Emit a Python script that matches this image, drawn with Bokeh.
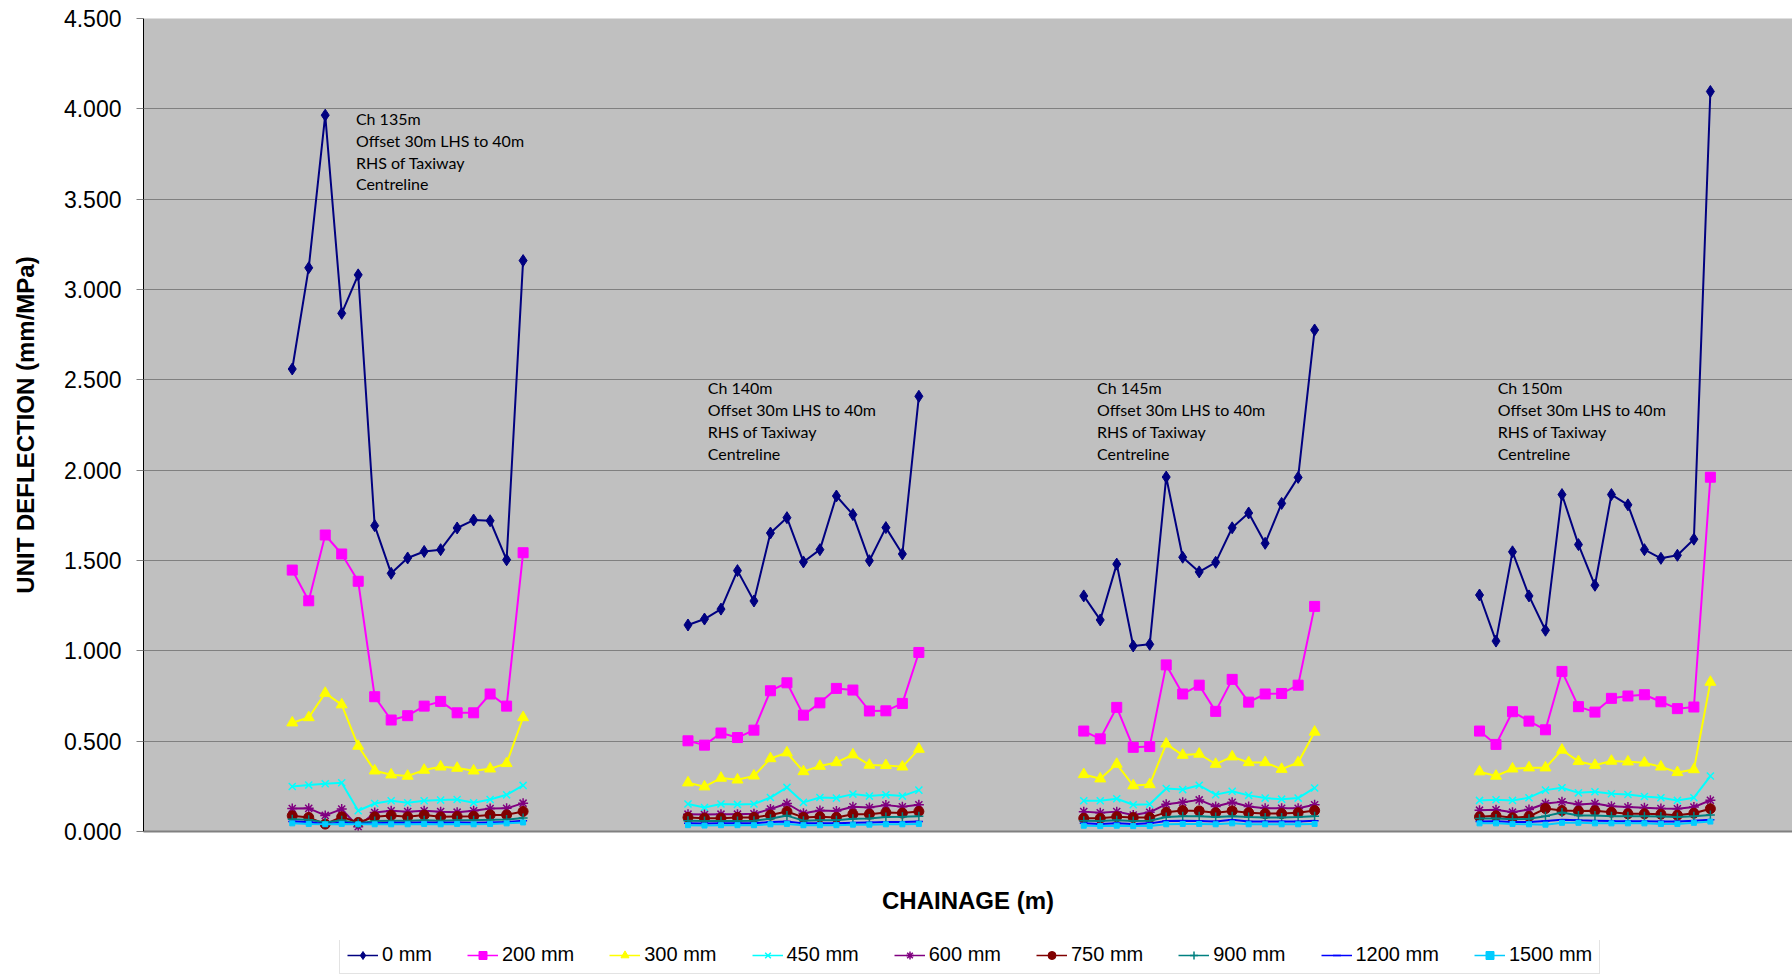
import math
from bokeh.plotting import figure
from bokeh.layouts import column
from bokeh.models import (Range1d, Legend, LegendItem, SingleIntervalTicker,
                          FixedTicker, NumeralTickFormatter)
from bokeh.core.properties import value
from bokeh.embed import file_html
from bokeh.resources import INLINE

# ---------------- data ----------------
series_names = ["0 mm", "200 mm", "300 mm", "450 mm", "600 mm",
                "750 mm", "900 mm", "1200 mm", "1500 mm"]

# 4 chainages, 15 offsets each; groups separated by 9 empty categories
stations_per_group = 15
group_offset = [0, 24, 48, 72]

d0 = ([2.560, 3.120, 3.965, 2.868, 3.081, 1.693, 1.429, 1.514, 1.550, 1.560, 1.680, 1.724, 1.720, 1.504, 3.160]
      + [1.143, 1.176, 1.231, 1.444, 1.276, 1.652, 1.737, 1.492, 1.560, 1.857, 1.754, 1.499, 1.682, 1.536, 2.409]
      + [1.304, 1.171, 1.480, 1.027, 1.036, 1.962, 1.518, 1.437, 1.490, 1.681, 1.763, 1.595, 1.816, 1.960, 2.776]
      + [1.309, 1.054, 1.548, 1.304, 1.114, 1.865, 1.588, 1.363, 1.865, 1.808, 1.560, 1.512, 1.529, 1.618, 4.096])
d200 = ([1.447, 1.277, 1.641, 1.536, 1.385, 0.746, 0.617, 0.641, 0.694, 0.720, 0.657, 0.657, 0.761, 0.694, 1.543]
        + [0.502, 0.478, 0.545, 0.520, 0.561, 0.779, 0.823, 0.644, 0.712, 0.792, 0.783, 0.667, 0.668, 0.709, 0.991]
        + [0.556, 0.513, 0.687, 0.466, 0.470, 0.922, 0.761, 0.810, 0.665, 0.842, 0.716, 0.761, 0.764, 0.810, 1.246]
        + [0.556, 0.482, 0.663, 0.611, 0.563, 0.886, 0.691, 0.661, 0.737, 0.750, 0.757, 0.718, 0.680, 0.689, 1.961])
d300 = ([0.602, 0.631, 0.766, 0.702, 0.473, 0.336, 0.314, 0.307, 0.340, 0.358, 0.351, 0.336, 0.347, 0.377, 0.631]
        + [0.270, 0.248, 0.296, 0.286, 0.308, 0.404, 0.436, 0.332, 0.362, 0.382, 0.425, 0.368, 0.366, 0.358, 0.456]
        + [0.316, 0.292, 0.373, 0.254, 0.260, 0.485, 0.423, 0.429, 0.373, 0.414, 0.382, 0.382, 0.345, 0.382, 0.551]
        + [0.331, 0.307, 0.347, 0.353, 0.353, 0.451, 0.388, 0.367, 0.390, 0.386, 0.380, 0.358, 0.327, 0.343, 0.827])
d450 = ([0.249, 0.257, 0.264, 0.270, 0.115, 0.155, 0.170, 0.159, 0.170, 0.174, 0.177, 0.159, 0.177, 0.203, 0.255]
        + [0.152, 0.133, 0.152, 0.150, 0.152, 0.188, 0.244, 0.161, 0.188, 0.185, 0.207, 0.196, 0.203, 0.196, 0.229]
        + [0.170, 0.170, 0.181, 0.148, 0.151, 0.238, 0.232, 0.256, 0.204, 0.223, 0.200, 0.185, 0.179, 0.185, 0.241]
        + [0.172, 0.176, 0.172, 0.187, 0.229, 0.242, 0.214, 0.220, 0.209, 0.205, 0.194, 0.187, 0.172, 0.187, 0.307])
d600 = ([0.127, 0.128, 0.089, 0.124, 0.026, 0.105, 0.115, 0.110, 0.115, 0.110, 0.107, 0.115, 0.127, 0.128, 0.157]
        + [0.096, 0.094, 0.096, 0.096, 0.098, 0.124, 0.155, 0.101, 0.116, 0.113, 0.137, 0.133, 0.146, 0.137, 0.148]
        + [0.110, 0.104, 0.110, 0.091, 0.106, 0.151, 0.162, 0.175, 0.138, 0.162, 0.138, 0.129, 0.129, 0.129, 0.148]
        + [0.118, 0.120, 0.107, 0.122, 0.155, 0.164, 0.150, 0.155, 0.140, 0.135, 0.131, 0.127, 0.126, 0.135, 0.173])
d750 = ([0.087, 0.078, 0.041, 0.081, 0.050, 0.081, 0.089, 0.081, 0.091, 0.081, 0.083, 0.085, 0.092, 0.092, 0.111]
        + [0.078, 0.074, 0.074, 0.078, 0.078, 0.091, 0.111, 0.078, 0.081, 0.078, 0.096, 0.096, 0.105, 0.102, 0.111]
        + [0.073, 0.073, 0.082, 0.077, 0.077, 0.106, 0.116, 0.114, 0.104, 0.114, 0.104, 0.099, 0.099, 0.104, 0.116]
        + [0.081, 0.087, 0.076, 0.083, 0.127, 0.116, 0.113, 0.115, 0.107, 0.098, 0.098, 0.096, 0.090, 0.101, 0.126])
d900 = ([0.068, 0.065, 0.050, 0.062, 0.045, 0.058, 0.060, 0.060, 0.062, 0.060, 0.062, 0.062, 0.065, 0.066, 0.075]
        + [0.060, 0.058, 0.058, 0.058, 0.060, 0.070, 0.088, 0.060, 0.062, 0.062, 0.070, 0.072, 0.080, 0.082, 0.085]
        + [0.060, 0.058, 0.062, 0.058, 0.060, 0.080, 0.085, 0.085, 0.080, 0.085, 0.080, 0.078, 0.078, 0.080, 0.085]
        + [0.072, 0.072, 0.068, 0.070, 0.085, 0.105, 0.088, 0.088, 0.085, 0.085, 0.085, 0.083, 0.080, 0.085, 0.092])
d1200 = ([0.055, 0.052, 0.040, 0.050, 0.042, 0.045, 0.048, 0.048, 0.050, 0.048, 0.050, 0.048, 0.050, 0.052, 0.060]
         + [0.045, 0.044, 0.045, 0.045, 0.046, 0.052, 0.055, 0.045, 0.046, 0.046, 0.048, 0.050, 0.052, 0.052, 0.055]
         + [0.045, 0.042, 0.045, 0.042, 0.045, 0.058, 0.060, 0.058, 0.055, 0.065, 0.055, 0.055, 0.055, 0.055, 0.060]
         + [0.055, 0.057, 0.052, 0.052, 0.058, 0.065, 0.062, 0.060, 0.058, 0.057, 0.057, 0.055, 0.055, 0.060, 0.065])
d1500 = ([0.045, 0.042, 0.040, 0.042, 0.040, 0.040, 0.040, 0.040, 0.042, 0.040, 0.042, 0.040, 0.042, 0.045, 0.050]
         + [0.035, 0.033, 0.035, 0.035, 0.035, 0.040, 0.042, 0.035, 0.035, 0.035, 0.038, 0.038, 0.040, 0.040, 0.042]
         + [0.032, 0.030, 0.032, 0.030, 0.030, 0.040, 0.042, 0.042, 0.040, 0.045, 0.040, 0.040, 0.040, 0.040, 0.042]
         + [0.045, 0.045, 0.042, 0.040, 0.038, 0.048, 0.048, 0.045, 0.045, 0.045, 0.045, 0.042, 0.042, 0.048, 0.055])

series_values = [d0, d200, d300, d450, d600, d750, d900, d1200, d1500]

y_ticks_interval = 0.5

note_texts = ["Ch 135m\nOffset 30m LHS to 40m\nRHS of Taxiway\nCentreline",
              "Ch 140m\nOffset 30m LHS to 40m\nRHS of Taxiway\nCentreline",
              "Ch 145m\nOffset 30m LHS to 40m\nRHS of Taxiway\nCentreline",
              "Ch 150m\nOffset 30m LHS to 40m\nRHS of Taxiway\nCentreline"]
note_x = [3.86, 25.2, 48.8, 73.1]
note_y = [4.0, 2.51, 2.51, 2.51]

# ---------------- styles ----------------
colors = ["#000080", "#FF00FF", "#FFFF00", "#00FFFF", "#800080",
          "#800000", "#008080", "#0000FF", "#00CCFF"]
markers = ["diamond", "square", "triangle", "x", "asterisk",
           "circle", "cross", "dash", "square"]
msizes = [12, 10, 11, 10, 10, 10, 9, 8, 5]
leg_sizes = [9, 7, 8, 8, 8, 8, 8, 7, 4]

FONT = "Liberation Sans"
W = 1792
H_MAIN = 940
H_LEG = 34

# x positions of the measurement points, with a break (NaN) between groups
x_pts = []
for g in group_offset:
    x_pts += [g + i for i in range(stations_per_group)]


def with_breaks(vals):
    out = []
    for k in range(len(group_offset)):
        out += vals[k * stations_per_group:(k + 1) * stations_per_group]
        if k < len(group_offset) - 1:
            out.append(math.nan)
    return out


x_line = with_breaks(x_pts)

p = figure(width=W, height=H_MAIN, output_backend="svg", toolbar_location=None,
           x_range=Range1d(-9.02, 90.98), y_range=Range1d(0, 4.5),
           min_border_left=143, min_border_top=18, min_border_right=0,
           min_border_bottom=109)
p.background_fill_color = "#C0C0C0"
p.border_fill_color = "white"
p.outline_line_color = None

p.xgrid.grid_line_color = None
p.ygrid.grid_line_color = "#808080"
p.ygrid.grid_line_width = 1
p.ygrid.ticker = SingleIntervalTicker(interval=y_ticks_interval)

p.yaxis.ticker = SingleIntervalTicker(interval=y_ticks_interval)
p.yaxis.formatter = NumeralTickFormatter(format="0.000")
p.yaxis.axis_line_color = "black"
p.yaxis.major_tick_out = 7
p.yaxis.major_tick_in = 0
p.yaxis.major_tick_line_color = "#808080"
p.yaxis.minor_tick_line_color = None
p.yaxis.major_label_text_font = FONT
p.yaxis.major_label_text_font_size = "23px"
p.yaxis.major_label_text_color = "black"
p.yaxis.major_label_standoff = 15
p.yaxis.axis_label = "UNIT DEFLECTION (mm/MPa)"
p.yaxis.axis_label_text_font = FONT
p.yaxis.axis_label_text_font_style = "bold"
p.yaxis.axis_label_text_font_size = "24px"
p.yaxis.axis_label_text_color = "black"
p.yaxis.axis_label_standoff = 22

p.xaxis.ticker = FixedTicker(ticks=[])
p.xaxis.major_tick_out = 0
p.xaxis.major_tick_in = 0
p.xaxis.minor_tick_line_color = None
p.xaxis.major_label_standoff = 0
p.xaxis.major_label_text_font_size = "0px"
p.xaxis.axis_line_color = "#808080"
p.xaxis.axis_line_width = 2
p.xaxis.axis_label = "CHAINAGE (m)"
p.xaxis.axis_label_text_font = FONT
p.xaxis.axis_label_text_font_style = "bold"
p.xaxis.axis_label_text_font_size = "24px"
p.xaxis.axis_label_text_color = "black"
p.xaxis.axis_label_standoff = 55

for name, vals, c, m, s in zip(series_names, series_values, colors, markers, msizes):
    p.line(x_line, with_breaks(vals), line_color=c, line_width=2)
    lw = 1.5 if m in ("x", "asterisk", "cross", "dash") else 1
    p.scatter(x_pts, vals, marker=m, size=s, line_color=c, line_width=lw, fill_color=c)

p.text(x=note_x, y=note_y, text=note_texts, text_font=value("Lato"),
       text_font_size="16px", text_color="black", text_baseline="top",
       text_align="left", text_line_height=1.15)

# ---------------- legend strip ----------------
# The strip holds copies of the series (outside its visible range) so the
# legend can draw each series' line + marker sample.
lf = figure(width=W, height=H_LEG, output_backend="svg", toolbar_location=None,
            x_range=Range1d(-1000, -999), y_range=Range1d(-1000, -999),
            x_axis_location=None, y_axis_location=None,
            min_border=0, min_border_left=0, min_border_right=0,
            min_border_top=0, min_border_bottom=0)
lf.grid.visible = False
lf.outline_line_color = None
lf.background_fill_color = "white"
lf.border_fill_color = "white"

items = []
for name, vals, c, m, s in zip(series_names, series_values, colors, markers, leg_sizes):
    ln = lf.line(x_pts, vals, line_color=c, line_width=1.5)
    lw = 1.5 if m in ("x", "asterisk", "cross", "dash") else 1
    sc = lf.scatter(x_pts, vals, marker=m, size=s, line_color=c, line_width=lw, fill_color=c)
    items.append(LegendItem(label=name, renderers=[ln, sc], index=0))

legend = Legend(items=items, orientation="horizontal", location=(196, 0),
                label_text_font=FONT, label_text_font_size="20px",
                label_text_color="black", glyph_width=31, glyph_height=20,
                label_height=20, label_standoff=4, spacing=35, padding=7,
                border_line_color="#C8C8C8", border_line_width=1,
                background_fill_color="white", background_fill_alpha=1.0)
lf.add_layout(legend, "center")

layout = column(p, lf, spacing=0)
open("out.html", "w").write(file_html(layout, INLINE))
